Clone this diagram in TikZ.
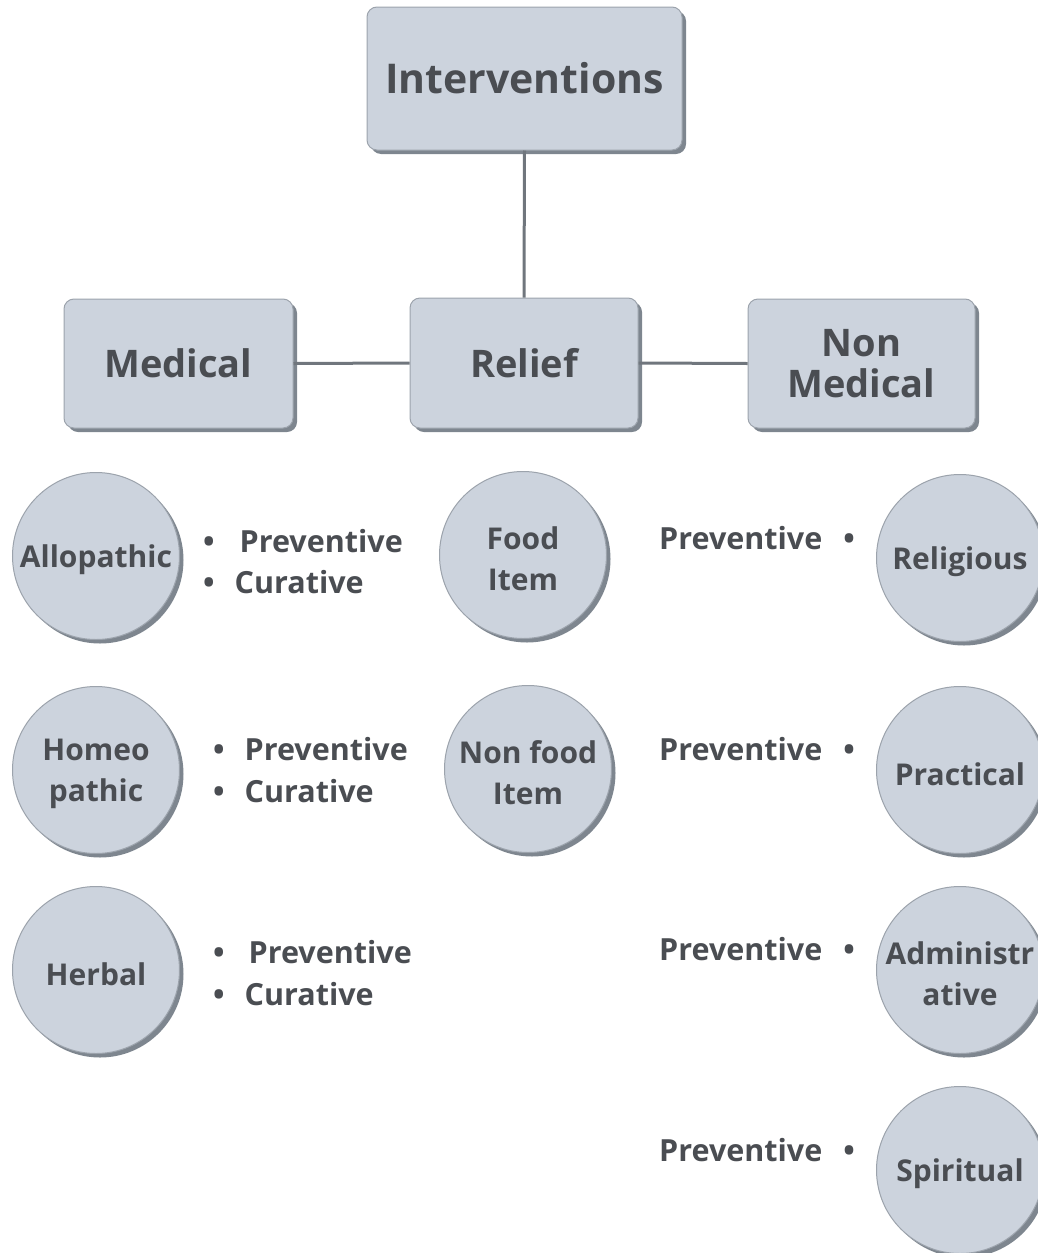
\documentclass[tikz,border=0pt]{standalone}
\usepackage{fontspec}
\setmainfont{Open Sans}
\usetikzlibrary{shadows}
\definecolor{boxfill}{HTML}{CCD3DD}
\definecolor{boxline}{HTML}{9CA3AC}
\definecolor{shadowc}{HTML}{7E868F}
\definecolor{txt}{HTML}{4A4D52}
\definecolor{conn}{HTML}{70767D}
\begin{document}
\begin{tikzpicture}[x=1pt,y=-1pt,
  every node/.style={text=txt,font=\bfseries},
  shad/.style={drop shadow={shadow xshift=4pt,shadow yshift=-4pt,fill=shadowc,opacity=1}},
  bigbox/.style={draw=boxline,line width=1pt,fill=boxfill,rounded corners=10pt,shad,
    inner sep=0pt,align=center,font=\bfseries\fontsize{38}{42}\selectfont},
  circtext/.style={text=txt,inner sep=0pt,align=center,yshift=-4pt,font=\bfseries\fontsize{30}{41}\selectfont},
  circ/.style={circle,draw=boxline,line width=1pt,fill=boxfill,shad,minimum size=167pt,
    inner sep=0pt,label={[circtext]center:#1}},
  lbl/.style={inner sep=0pt,font=\bfseries\fontsize{30.5}{34}\selectfont},
  conline/.style={draw=conn,line width=3pt}
]
\useasboundingbox (0,0) rectangle (1038,1253);
% top boxes
\node[bigbox,minimum width=315pt,minimum height=143pt,font=\bfseries\fontsize{41}{44}\selectfont] (int) at (524.5,78.5) {\raisebox{-6pt}{Interventions}};
\node[bigbox,minimum width=229pt,minimum height=129pt] (med) at (178.5,363.5) {Medical};
\node[bigbox,minimum width=228pt,minimum height=130pt] (rel) at (524,363) {Relief};
\node[bigbox,minimum width=227pt,minimum height=129pt] (nmed) at (861.5,363.5) {Non\\[-1pt]Medical};
% connectors
\draw[conline] (int.south) -- (rel.north);
\draw[conline] (med.east) -- (rel.west);
\draw[conline] (rel.east) -- (nmed.west);
% left circles
\node[circ={Allopathic}] (allo) at (96,556) {};
\node[circ={Homeo\\pathic}] (homeo) at (96,770) {};
\node[circ={Herbal}] (herb) at (96,970) {};
% middle circles
\node[circ={Food\\Item}] (food) at (523,555) {};
\node[circ={Non food\\Item}] (nfood) at (528,769) {};
% right circles
\node[circ={Religious}] (relig) at (960,558) {};
\node[circ={Practical}] (pract) at (960,770) {};
\node[circ={Administr\\ative}] (admin) at (960,970) {};
\node[circ={Spiritual}] (spir) at (960,1170) {};
% left bullet lists
\node[lbl,anchor=base west] (b1a) at (203,552) {\textbullet\hspace{25pt}Preventive};
\node[lbl,anchor=base west] (b1b) at (203,593) {\textbullet\hspace{20pt}Curative};
\node[lbl,anchor=base west] (b2a) at (213,760) {\textbullet\hspace{20pt}Preventive};
\node[lbl,anchor=base west] (b2b) at (213,802) {\textbullet\hspace{20pt}Curative};
\node[lbl,anchor=base west] (b3a) at (213,963) {\textbullet\hspace{24pt}Preventive};
\node[lbl,anchor=base west] (b3b) at (213,1005) {\textbullet\hspace{20pt}Curative};
% right bullet labels
\node[lbl,anchor=base west] (r1) at (659,549) {Preventive\hspace{21pt}\textbullet};
\node[lbl,anchor=base west] (r2) at (659,760) {Preventive\hspace{21pt}\textbullet};
\node[lbl,anchor=base west] (r3) at (659,960) {Preventive\hspace{21pt}\textbullet};
\node[lbl,anchor=base west] (r4) at (659,1161) {Preventive\hspace{21pt}\textbullet};
\end{tikzpicture}
\end{document}
